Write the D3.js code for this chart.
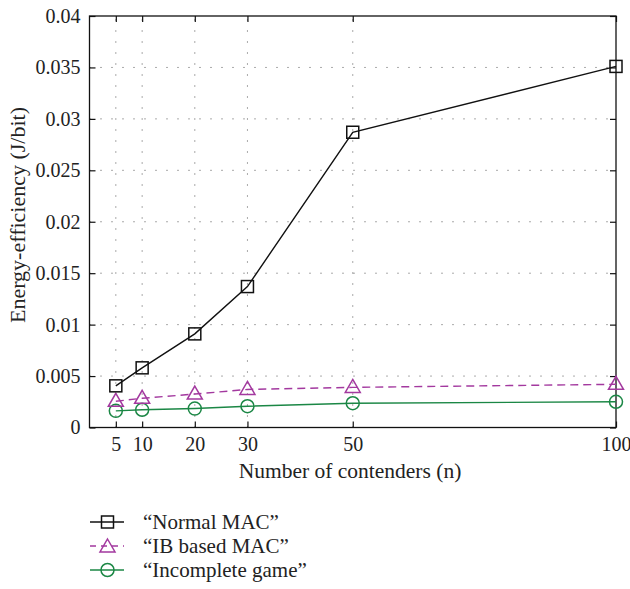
<!DOCTYPE html>
<html><head><meta charset="utf-8">
<script src="https://cdn.jsdelivr.net/npm/d3@7"></script>
<style>
body{margin:0;background:#fff;}
svg text{font-family:"Liberation Serif","DejaVu Serif",serif;fill:#222;}
</style></head>
<body><svg id="c" width="630" height="589"></svg>
<script>
const contenders = [5, 10, 20, 30, 50, 100];
const normalMAC = [0.00405, 0.0058, 0.0091, 0.0137, 0.0287, 0.0351];
const ibMAC = [0.00255, 0.00284, 0.00325, 0.0037, 0.0039, 0.0042];
const incompleteGame = [0.00162, 0.00172, 0.00184, 0.00207, 0.00236, 0.0025];
const xTicks = [5, 10, 20, 30, 50, 100];
const yTicks = [0, 0.005, 0.01, 0.015, 0.02, 0.025, 0.03, 0.035, 0.04];
const yTickLabels = ["0", "0.005", "0.01", "0.015", "0.02", "0.025", "0.03", "0.035", "0.04"];
const seriesNames = ["\u201cNormal MAC\u201d", "\u201cIB based MAC\u201d", "\u201cIncomplete game\u201d"];

const svg = d3.select("#c");
const L = 89.5, R = 616, T = 16, B = 427.5;
const x = d3.scaleLinear().domain([0, 100]).range([L, R]);
const y = d3.scaleLinear().domain([0, 0.04]).range([B, T]);

// grid
const g = svg.append("g");
xTicks.filter(v => v !== 100).forEach(v => {
  g.append("line").attr("x1", x(v)).attr("x2", x(v)).attr("y1", B).attr("y2", T)
    .attr("stroke", "#555").attr("stroke-width", 1).attr("stroke-dasharray", "1,10");
});
yTicks.filter(v => v !== 0 && v !== 0.04).forEach(v => {
  g.append("line").attr("x1", L).attr("x2", R).attr("y1", y(v)).attr("y2", y(v))
    .attr("stroke", "#555").attr("stroke-width", 1).attr("stroke-dasharray", "1,10");
});

// axes
const fmt = d => yTickLabels[yTicks.indexOf(d)];
const yAxis = d3.axisLeft(y).tickValues(yTicks).tickFormat(fmt).tickSizeInner(-6).tickSizeOuter(0).tickPadding(9);
const yAxisR = d3.axisRight(y).tickValues(yTicks).tickFormat("").tickSizeInner(-6).tickSizeOuter(0);
const xAxis = d3.axisBottom(x).tickValues(xTicks).tickFormat(d3.format("d")).tickSizeInner(-6).tickSizeOuter(0).tickPadding(9);
const xAxisT = d3.axisTop(x).tickValues(xTicks).tickFormat("").tickSizeInner(-6).tickSizeOuter(0);

function style(sel) {
  sel.selectAll("path").remove();
  sel.selectAll("line").attr("stroke", "#111").attr("stroke-width", 1.2);
  sel.selectAll("text").attr("font-size", 20).attr("font-family", "Liberation Serif").attr("fill", "#222");
}
svg.append("g").attr("transform", `translate(${L},0)`).call(yAxis).call(style);
svg.append("g").attr("transform", `translate(${R},0)`).call(yAxisR).call(style);
svg.append("g").attr("transform", `translate(0,${B})`).call(xAxis).call(style);
svg.append("g").attr("transform", `translate(0,${T})`).call(xAxisT).call(style);

svg.append("rect").attr("x", L).attr("y", T).attr("width", R - L).attr("height", B - T)
  .attr("fill", "none").attr("stroke", "#111").attr("stroke-width", 1.3);

// series
const series = [
  {vals: normalMAC, color: "#111", dash: null, marker: "square"},
  {vals: ibMAC, color: "#a3399f", dash: "8,5", marker: "triangle"},
  {vals: incompleteGame, color: "#1b8745", dash: null, marker: "circle"}
];
const line = d3.line().x(d => x(d[0])).y(d => y(d[1]));

function drawMarker(sel, type, cx, cy, color) {
  if (type === "square") {
    sel.append("rect").attr("x", cx - 6).attr("y", cy - 6).attr("width", 12).attr("height", 12)
      .attr("fill", "none").attr("stroke", color).attr("stroke-width", 1.5);
  } else if (type === "triangle") {
    sel.append("path").attr("d", `M${cx},${cy - 8}L${cx + 7.5},${cy + 5}L${cx - 7.5},${cy + 5}Z`)
      .attr("fill", "none").attr("stroke", color).attr("stroke-width", 1.5);
  } else {
    sel.append("circle").attr("cx", cx).attr("cy", cy).attr("r", 6.5)
      .attr("fill", "none").attr("stroke", color).attr("stroke-width", 1.5);
  }
}

series.slice().reverse().forEach(s => {
  const pts = contenders.map((c, i) => [c, s.vals[i]]);
  svg.append("path").datum(pts).attr("d", line).attr("fill", "none")
    .attr("stroke", s.color).attr("stroke-width", 1.4)
    .attr("stroke-dasharray", s.dash);
  const mg = svg.append("g");
  pts.forEach(p => drawMarker(mg, s.marker, x(p[0]), y(p[1]), s.color));
});

// axis titles
svg.append("text").attr("x", 350).attr("y", 478).attr("text-anchor", "middle")
  .attr("font-size", 21.5).text("Number of contenders (n)");
svg.append("text").attr("transform", `translate(25,215) rotate(-90)`).attr("text-anchor", "middle")
  .attr("font-size", 22).text("Energy-efficiency (J/bit)");

// legend
const legY = [522, 546, 570];
series.forEach((s, i) => {
  const lg = svg.append("g");
  lg.append("line").attr("x1", 90).attr("x2", 124).attr("y1", legY[i]).attr("y2", legY[i])
    .attr("stroke", s.color).attr("stroke-width", 1.4).attr("stroke-dasharray", s.dash ? "6,5" : null);
  drawMarker(lg, s.marker, 107.5, legY[i] + (s.marker === "triangle" ? 1 : 0), s.color);
  lg.append("text").attr("x", 143).attr("y", legY[i] + 7).attr("font-size", 21).text(seriesNames[i]);
});
</script></body></html>
